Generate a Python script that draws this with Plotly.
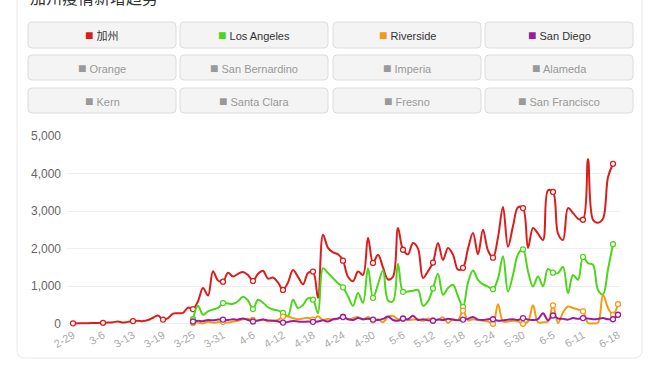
import datetime as dt
import plotly.graph_objects as go

# ---------------- data ----------------
# category dates (one day missing between 3-6 and 3-13 in the source)
_d0 = dt.date(2020, 2, 29)
dates = []
for k in range(111):
    d = _d0 + dt.timedelta(days=k)
    if d == dt.date(2020, 3, 8):
        continue
    dates.append(f"{d.month}-{d.day}")

tick_labels = ["2-29", "3-6", "3-13", "3-19", "3-25", "3-31", "4-6", "4-12", "4-18",
               "4-24", "4-30", "5-6", "5-12", "5-18", "5-24", "5-30", "6-5", "6-11", "6-18"]

series_names = ["加州", "Los Angeles", "Riverside", "San Diego"]
series_colors = ["#dd1c1c", "#4cd61a", "#f29c14", "#9b1d9e"]

legend_names = ["加州", "Los Angeles", "Riverside", "San Diego",
                "Orange", "San Bernardino", "Imperia", "Alameda",
                "Kern", "Santa Clara", "Fresno", "San Francisco"]

california = [
    10, 10, 15, 15, 20, 20, 25, 30, 40, 60,
    30, 50, 70, 80, 70, 100, 160, 220, 110, 150,
    270, 280, 290, 430, 390, 600, 950, 750, 1400, 1150,
    1120, 1360, 1260, 1330, 1380, 1300, 1140, 1330, 1410, 1200,
    1230, 1100, 900, 1100, 1430, 1250, 1050, 1350, 1390, 690,
    2370, 2020, 1900, 1850, 1680, 1250, 1130, 1390, 1300, 2290,
    1620, 1840, 1500, 1180, 1250, 2550, 1970, 1850, 2150, 2000,
    1220, 1400, 1630, 2150, 1700, 2020, 1840, 1440, 1490, 2000,
    2420, 1850, 2500, 1950, 1760, 2300, 3110, 2050, 2600, 3100,
    3080, 2020, 2550, 2400, 2230, 3550, 3510, 2400, 2230, 3080,
    2950, 2800, 2770, 4390, 2770, 2690, 2800, 3900, 4260,
]

los_angeles = [None] * 24 + [
    120, 480, 240, 330, 380, 420, 550, 540, 530, 600,
    720, 620, 390, 640, 560, 440, 380, 350, 290, 210,
    640, 420, 500, 680, 640, 280, 1480, 1350, 1210, 1080,
    970, 730, 480, 820, 560, 1480, 690, 1050, 1420, 620,
    600, 1600, 850, 860, 880, 900, 480, 600, 940, 1330,
    770, 950, 1040, 730, 450, 1100, 1420, 1170, 1050, 990,
    920, 1200, 1800, 860, 1300, 1850, 1980, 1400, 990, 1260,
    1000, 1460, 1360, 1350, 1520, 810, 1300, 1170, 1780, 1610,
    1570, 900, 780, 1450, 2120,
]

riverside = [None] * 24 + [
    20, 30, 10, 50, 30, 40, 50, 30, 60, 80,
    120, 130, 100, 80, 110, 60, 80, 100, 190, 190,
    150, 120, 140, 160, 110, 200, 100, 130, 110, 140,
    190, 120, 150, 180, 110, 180, 90, 120, 40, 180,
    210, 120, 130, 100, 110, 120, 80, 140, 90, 110,
    170, 20, 120, 100, 350, 90, 120, 100, 80, 60,
    0, 520, 60, 60, 80, 60, 0, 60, 490, 40,
    40, 60, 490, 20, 300, 460, 420, 380, 330, 20,
    10, 30, 770, 420, 240, 520,
]

san_diego = [None] * 24 + [
    60, 80, 70, 100, 90, 110, 110, 100, 120, 110,
    140, 100, 60, 90, 110, 90, 80, 60, 30, 50,
    70, 60, 50, 60, 50, 60, 90, 60, 120, 140,
    180, 120, 100, 150, 120, 130, 110, 100, 130, 190,
    100, 80, 140, 120, 210, 100, 120, 90, 80, 110,
    100, 130, 110, 90, 110, 130, 180, 110, 100, 120,
    120, 80, 90, 110, 120, 100, 150, 110, 100, 120,
    280, 90, 220, 140, 130, 110, 150, 130, 150, 140,
    120, 130, 150, 120, 120, 240,
]

y_ticks = [0, 1000, 2000, 3000, 4000, 5000]

# ---------------- layout helpers (pixel -> paper) ----------------
W, H = 672, 372
L, R, T, B = 67, 52, 136, 46
PW, PH = W - L - R, H - T - B


def px(x):
    return (x - L) / PW


def py(y):
    return (H - B - y) / PH


def rounded(x0, y0, x1, y1, r):
    return (f"M {px(x0 + r)},{py(y0)} L {px(x1 - r)},{py(y0)} "
            f"Q {px(x1)},{py(y0)} {px(x1)},{py(y0 + r)} L {px(x1)},{py(y1 - r)} "
            f"Q {px(x1)},{py(y1)} {px(x1 - r)},{py(y1)} L {px(x0 + r)},{py(y1)} "
            f"Q {px(x0)},{py(y1)} {px(x0)},{py(y1 - r)} L {px(x0)},{py(y0 + r)} "
            f"Q {px(x0)},{py(y0)} {px(x0 + r)},{py(y0)} Z")


FONT = "Liberation Sans, Noto Sans CJK SC, DejaVu Sans, sans-serif"

fig = go.Figure()

all_series = [california, los_angeles, riverside, san_diego]
for name, color, vals in zip(series_names, series_colors, all_series):
    xs = dates[:len(vals)]
    fig.add_trace(go.Scatter(
        x=xs, y=vals, mode="lines", name=name,
        line=dict(color=color, width=2, shape="spline", smoothing=1.0),
        showlegend=False, hoverinfo="skip"))
    valid = [i for i, v in enumerate(vals) if v is not None]
    last = valid[-1]
    mk = [i for i in valid if i % 6 == 0 or i == last]
    fig.add_trace(go.Scatter(
        x=[xs[i] for i in mk], y=[vals[i] for i in mk], mode="markers",
        marker=dict(symbol="circle", size=5, color="white",
                    line=dict(color=color, width=1.3)),
        showlegend=False, hoverinfo="skip", cliponaxis=False))

shapes = []
annotations = []

# card border
shapes.append(dict(type="path", xref="paper", yref="paper",
                   path=rounded(17, -20, 642, 358, 8),
                   line=dict(color="#e8e8e8", width=1), fillcolor="rgba(0,0,0,0)",
                   layer="below"))

# legend buttons
cols = [(28, 176), (180, 328), (333, 481), (485, 633)]
rows = [(22, 48), (55, 80), (88, 113)]
for k, nm in enumerate(legend_names):
    r_, c_ = divmod(k, 4)
    x0, x1 = cols[c_]
    y0, y1 = rows[r_]
    shapes.append(dict(type="path", xref="paper", yref="paper",
                       path=rounded(x0, y0, x1, y1, 4),
                       line=dict(color="#dcdcdc", width=1), fillcolor="#f4f4f4",
                       layer="below"))
    if k < len(series_colors):
        sq, tc = series_colors[k], "#333333"
    else:
        sq, tc = "#999999", "#999999"
    annotations.append(dict(
        xref="paper", yref="paper", x=px((x0 + x1) / 2), y=py((y0 + y1) / 2),
        xanchor="center", yanchor="middle", showarrow=False,
        text=f"<span style='color:{sq};font-size:14px'>■</span> {nm}",
        font=dict(family=FONT, size=11, color=tc)))

# title (cut off at top in the reference)
annotations.append(dict(
    xref="paper", yref="paper", x=px(28), y=py(-3.5), xanchor="left", yanchor="middle",
    showarrow=False, text="加州疫情新增趋势",
    font=dict(family="Noto Sans CJK SC", size=16, color="#333333")))

tick_idx = list(range(0, 103, 6)) + [len(dates) - 1]

fig.update_layout(
    width=W, height=H,
    margin=dict(l=L, r=R, t=T, b=B),
    paper_bgcolor="white", plot_bgcolor="white",
    font=dict(family=FONT),
    shapes=shapes, annotations=annotations,
    xaxis=dict(type="category", categoryorder="array", categoryarray=dates,
               range=[-1.2, len(dates) - 1 + 0.4],
               tickmode="array", tickvals=[dates[i] for i in tick_idx], ticktext=tick_labels,
               tickangle=-30, tickfont=dict(size=11, color="#aaaaaa"),
               showgrid=False, zeroline=False, showline=False, ticks=""),
    yaxis=dict(range=[-60, 5000], tickmode="array", tickvals=y_ticks,
               tickformat=",", tickfont=dict(size=12, color="#666666"),
               gridcolor="#eeeeee", gridwidth=1, zeroline=False, showline=False,
               ticks="", ticklabelstandoff=5),
)

fig.write_html("out.html", config={"displayModeBar": False},
               post_script="document.body.style.margin='0px';document.body.style.overflow='hidden';")
